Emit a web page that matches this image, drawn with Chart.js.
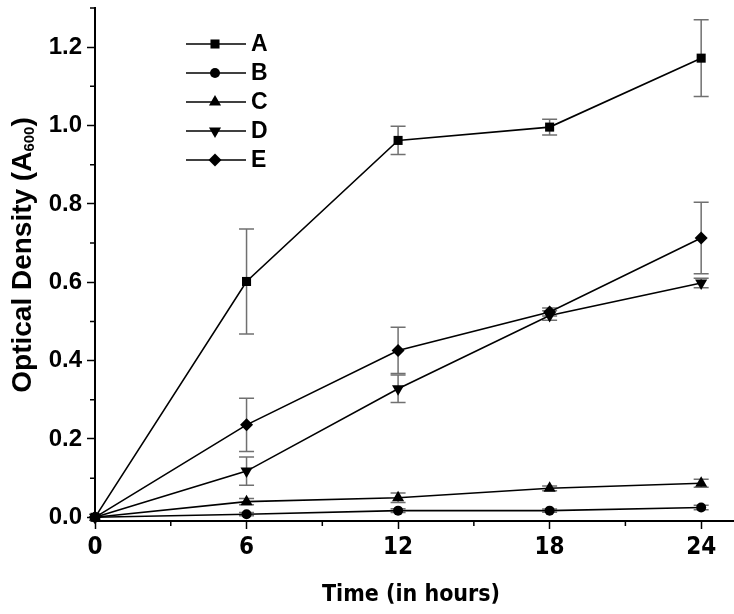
<!DOCTYPE html>
<html>
<head>
<meta charset="utf-8">
<script src="https://cdn.jsdelivr.net/npm/chart.js@4/dist/chart.umd.min.js"></script>
<style>
  html, body { margin: 0; padding: 0; background: #fff; }
  #wrap { width: 734px; height: 614px; }
</style>
</head>
<body>
<div id="wrap"><canvas id="growthChart" width="734" height="614"></canvas></div>
<script>
// ------------------ DATA ------------------
const timeHours = [0, 6, 12, 18, 24];
const seriesNames = ["A", "B", "C", "D", "E"];

const valuesA = [0, 0.602, 0.962, 0.996, 1.172];
const errorsA = [0, 0.134, 0.036, 0.020, 0.098];
const valuesB = [0, 0.008, 0.017, 0.017, 0.025];
const errorsB = [0, 0.004, 0.005, 0.004, 0.006];
const valuesC = [0, 0.040, 0.050, 0.074, 0.087];
const errorsC = [0, 0.008, 0.012, 0.006, 0.010];
const valuesD = [0, 0.118, 0.328, 0.515, 0.598];
const errorsD = [0, 0.036, 0.035, 0.012, 0.012];
const valuesE = [0, 0.236, 0.426, 0.524, 0.713];
const errorsE = [0, 0.068, 0.059, 0.010, 0.091];

const xTicks = [0, 6, 12, 18, 24];
const xMinorTicks = [3, 9, 15, 21];
const yTicks = [0, 0.2, 0.4, 0.6, 0.8, 1.0, 1.2];
const yMinorTicks = [0.1, 0.3, 0.5, 0.7, 0.9, 1.1, 1.3];

const xTitle = "Time (in hours)";
const yTitle = ["Optical Density (A", "600", ")"];

// ------------------ STYLES ------------------
const markers = [
  { pointStyle: "rect", radius: 6.4, rotation: 0 },
  { pointStyle: "circle", radius: 5, rotation: 0 },
  { pointStyle: "triangle", radius: 7, rotation: 0 },
  { pointStyle: "triangle", radius: 7, rotation: 180 },
  { pointStyle: "rectRot", radius: 6.5, rotation: 0 },
];
const allValues = [valuesA, valuesB, valuesC, valuesD, valuesE];
const allErrors = [errorsA, errorsB, errorsC, errorsD, errorsE];

const boldFont = "'Liberation Sans', Arial, sans-serif";
const narrowFont = "'DejaVu Sans Condensed', 'Liberation Sans Narrow', 'Arial Narrow', 'Liberation Sans', sans-serif";

const datasets = seriesNames.map((name, i) => ({
  label: name,
  data: timeHours.map((t, j) => ({ x: t, y: allValues[i][j] })),
  errors: allErrors[i],
  borderColor: "#000",
  backgroundColor: "#000",
  borderWidth: 1.6,
  pointStyle: markers[i].pointStyle,
  pointRadius: markers[i].radius,
  pointRotation: markers[i].rotation,
  pointBorderWidth: 0,
  tension: 0,
  clip: false,
}));

// ------------------ PLUGINS ------------------
const errorBars = {
  id: "errorBars",
  beforeDatasetsDraw(chart) {
    const ctx = chart.ctx;
    const y = chart.scales.y;
    ctx.save();
    ctx.strokeStyle = "#707070";
    ctx.lineWidth = 1.5;
    chart.data.datasets.forEach((ds, i) => {
      const meta = chart.getDatasetMeta(i);
      meta.data.forEach((pt, j) => {
        const e = ds.errors[j];
        if (!e) return;
        const v = ds.data[j].y;
        const top = y.getPixelForValue(v + e);
        const bot = y.getPixelForValue(v - e);
        ctx.beginPath();
        ctx.moveTo(pt.x, top); ctx.lineTo(pt.x, bot);
        ctx.moveTo(pt.x - 7.5, top); ctx.lineTo(pt.x + 7.5, top);
        ctx.moveTo(pt.x - 7.5, bot); ctx.lineTo(pt.x + 7.5, bot);
        ctx.stroke();
      });
    });
    ctx.restore();
  },
};

const decorations = {
  id: "decorations",
  afterDraw(chart) {
    const ctx = chart.ctx;
    const xs = chart.scales.x;
    const ys = chart.scales.y;
    const area = chart.chartArea;
    ctx.save();

    // minor ticks
    ctx.strokeStyle = "#000";
    ctx.lineWidth = 1.5;
    ctx.beginPath();
    xMinorTicks.forEach(v => {
      const px = xs.getPixelForValue(v);
      ctx.moveTo(px, area.bottom); ctx.lineTo(px, area.bottom + 5);
    });
    yMinorTicks.forEach(v => {
      const py = ys.getPixelForValue(v);
      ctx.moveTo(area.left, py); ctx.lineTo(area.left - 5, py);
    });
    ctx.stroke();

    // legend
    chart.data.datasets.forEach((ds, i) => {
      const ly = 44 + 29 * i;
      ctx.strokeStyle = "#000";
      ctx.lineWidth = 1.6;
      ctx.beginPath();
      ctx.moveTo(186, ly); ctx.lineTo(246, ly);
      ctx.stroke();
      ctx.fillStyle = "#000";
      Chart.helpers.drawPoint(ctx, {
        pointStyle: ds.pointStyle, radius: ds.pointRadius,
        rotation: ds.pointRotation, borderWidth: 0,
      }, 215, ly);
      ctx.font = "bold 23px " + boldFont;
      ctx.textAlign = "left";
      ctx.textBaseline = "middle";
      ctx.fillText(ds.label, 251, ly + 1);
    });

    // x title
    ctx.fillStyle = "#000";
    ctx.font = "bold 23px " + narrowFont;
    ctx.textAlign = "center";
    ctx.textBaseline = "middle";
    ctx.fillText(xTitle, 411, 595);

    // y title with subscript
    ctx.translate(23, 255);
    ctx.rotate(-Math.PI / 2);
    const mainFont = "bold 28px " + boldFont;
    const subFont = "bold 15px " + boldFont;
    ctx.font = mainFont;
    const w1 = ctx.measureText(yTitle[0]).width;
    const w3 = ctx.measureText(yTitle[2]).width;
    ctx.font = subFont;
    const w2 = ctx.measureText(yTitle[1]).width;
    let cx = -(w1 + w2 + w3) / 2;
    ctx.textAlign = "left";
    ctx.font = mainFont;
    ctx.fillText(yTitle[0], cx, 0);
    cx += w1;
    ctx.font = subFont;
    ctx.fillText(yTitle[1], cx, 7);
    cx += w2;
    ctx.font = mainFont;
    ctx.fillText(yTitle[2], cx, 0);

    ctx.restore();
  },
};

// ------------------ CHART ------------------
const ctx = document.getElementById("growthChart").getContext("2d");
new Chart(ctx, {
  type: "line",
  data: { datasets },
  options: {
    responsive: false,
    animation: false,
    layout: { autoPadding: false, padding: { top: 8, right: 0, left: 0, bottom: 0 } },
    plugins: { legend: { display: false }, tooltip: { enabled: false } },
    scales: {
      x: {
        type: "linear",
        min: 0,
        max: 25.3,
        afterFit(scale) { scale.height = 93; scale.paddingLeft = 0; scale.paddingRight = 0; },
        afterBuildTicks(scale) { scale.ticks = xTicks.map(v => ({ value: v })); },
        grid: { drawOnChartArea: false, drawTicks: true, tickLength: 8, tickWidth: 1.5, tickColor: "#000" },
        border: { display: true, color: "#000", width: 2 },
        ticks: {
          color: "#000",
          padding: 4,
          maxRotation: 0,
          font: { family: narrowFont, size: 24, weight: "bold" },
          callback: v => String(v),
        },
      },
      y: {
        type: "linear",
        min: -0.0094,
        max: 1.3,
        afterFit(scale) { scale.width = 95; scale.paddingTop = 0; scale.paddingBottom = 0; },
        afterBuildTicks(scale) { scale.ticks = yTicks.map(v => ({ value: v })); },
        grid: { drawOnChartArea: false, drawTicks: true, tickLength: 8, tickWidth: 1.5, tickColor: "#000" },
        border: { display: true, color: "#000", width: 2 },
        ticks: {
          color: "#000",
          padding: 5,
          font: { family: boldFont, size: 24, weight: "bold" },
          callback: v => v.toFixed(1),
        },
      },
    },
  },
  plugins: [errorBars, decorations],
});
</script>
</body>
</html>
